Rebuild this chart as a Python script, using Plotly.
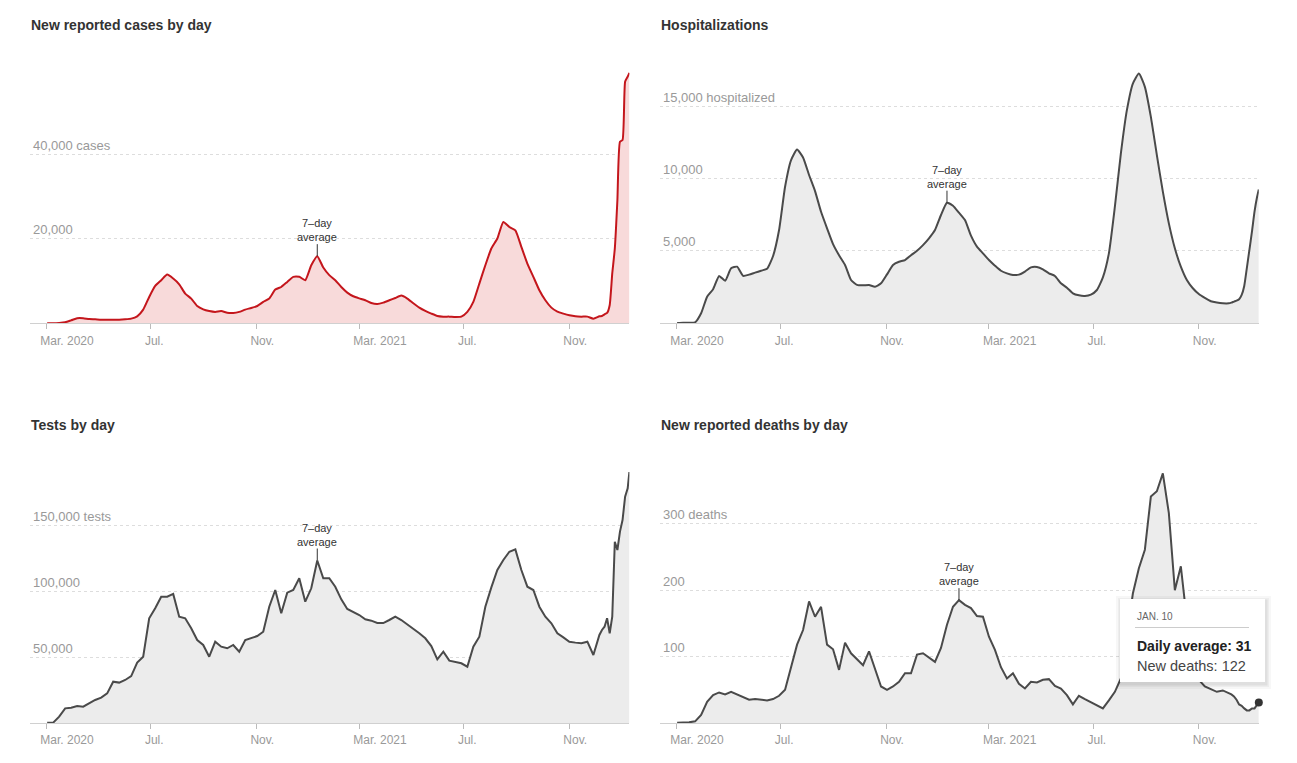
import plotly.graph_objects as go
import pandas as pd

# weekly readings, then a denser tail for the last five weeks
weekly = pd.date_range("2020-03-02", "2021-12-06", freq="7D")
tail_dates = ["2021-12-09", "2021-12-12", "2021-12-15", "2021-12-18", "2021-12-21", "2021-12-24",
              "2021-12-27", "2021-12-30", "2022-01-02", "2022-01-05", "2022-01-08", "2022-01-10"]
dates = list(weekly.strftime("%Y-%m-%d")) + tail_dates

cases = [0, 0, 80, 240, 700, 1200, 1200, 1000, 950, 870,
         870, 870, 870, 950, 1100, 1650, 3240, 6240, 8850, 10200,
         11530, 10600, 9240, 7030, 5850, 4100, 3300, 2900, 2700, 2900,
         2500, 2450, 2700, 3240, 3630, 4100, 5050, 5850, 7980, 8600,
         9800, 11000, 11000, 10200, 13750, 15900, 13200, 11400, 10200,
         8600, 7270, 6400, 5900, 5450, 4800, 4580, 4900, 5450, 6000,
         6560, 5850, 4740, 3710, 2920, 2290, 1740, 1580, 1580, 1500,
         1580, 2690, 5060, 9400, 13750, 17700, 20070, 24000, 22800, 22000,
         18100, 14140, 11000, 7820, 5450, 3710, 2770, 2290, 1900, 1660,
         1580, 1580, 1100, 1660,
         1740, 2130, 2450, 4270, 11800, 17700, 29150, 43000, 43400, 57200, 58400, 59300]

hospitalized = [20, 40, 40, 70, 690, 1840, 2350, 3270, 2940, 3800,
                3910, 3270, 3360, 3500, 3630, 3770, 4650, 6440, 9430, 11270,
                12000, 11450, 10240, 9130, 7700, 6560, 5470, 4700, 4030, 2990,
                2650, 2620, 2650, 2530, 2760, 3380, 4030, 4250, 4370, 4700,
                5010, 5400, 5870, 6440, 7480, 8330, 8120, 7640, 7130,
                6050, 5290, 4830, 4370, 3980, 3630, 3450, 3340, 3360, 3570,
                3860, 3890, 3730, 3450, 3270, 2760, 2460, 2070, 1930, 1890,
                1980, 2300, 3170, 4830, 8050, 11730, 14720, 16560, 17250, 16330,
                14260, 11620, 9090, 6900, 5180, 3910, 2990, 2420, 2020, 1750,
                1520, 1430, 1380, 1380,
                1430, 1500, 1560, 1660, 1960, 2580, 3800, 5060, 6330, 7710, 8740, 9250]

tests = [250, 250, 4800, 11150, 11650, 12900, 12400, 14950, 17500, 19250,
         22550, 31400, 30700, 32700, 35700, 45900, 50400, 79600, 87200, 96000,
         96000, 98100, 80800, 79600, 72000, 63100, 59300, 50400, 61800, 58000,
         56800, 59300, 54200, 63100, 64400, 66100, 69400, 88400, 101100, 83400,
         99100, 101100, 110000, 92200, 102400, 123500, 110000, 110000, 103600,
         94000, 86700, 84600, 82100, 78800, 77800, 76000, 76000, 78300, 80800,
         78300, 75000, 72000, 68200, 64400, 58500, 48400, 54200, 47400, 46100,
         45400, 42800, 58000, 65600, 88400, 103100, 116300, 123900, 130200, 132000,
         116300, 103600, 101100, 88400, 80800, 75800, 68200, 65100, 61800, 61100,
         60600, 61800, 51700, 66900,
         70700, 73200, 79600, 68200, 80800, 137800, 131500, 145500, 154300, 172000, 178400, 191000]

deaths = [0.5, 0.5, 1, 2.5, 12, 32, 42, 46, 43, 47,
          43, 39, 35, 36, 35, 34, 36, 41, 50, 82,
          118, 140, 183, 160, 175, 118, 111, 80, 121, 105,
          96, 87, 108, 82, 55, 50, 55, 62, 75, 75,
          103, 105, 99, 92, 113, 148, 175, 185, 178,
          173, 161, 160, 130, 110, 84, 67, 75, 59, 52,
          62, 61, 65, 66, 56, 52, 42, 28, 41, 36,
          31, 27, 22, 34, 47, 67, 135, 195, 233, 261,
          341, 349, 376, 316, 200, 236, 155, 95, 65, 55,
          51, 47, 49, 45,
          43, 40, 35, 28, 26, 22, 19, 19, 22, 22, 27, 31]

tick_dates = ["2020-03-01", "2020-07-01", "2020-11-01", "2021-03-01", "2021-07-01", "2021-11-01"]
tick_labels = ["Mar. 2020", "Jul.", "Nov.", "Mar. 2021", "Jul.", "Nov."]

titles = ["New reported cases by day", "Hospitalizations", "Tests by day", "New reported deaths by day"]
series = [cases, hospitalized, tests, deaths]
y_ticks = [[20000, 40000], [5000, 10000, 15000], [50000, 100000, 150000], [100, 200, 300]]
y_labels = [["20,000", "40,000 cases"], ["5,000", "10,000", "15,000 hospitalized"],
            ["50,000", "100,000", "150,000 tests"], ["100", "200", "300 deaths"]]
y_tops = [59500, 17355, 190800, 378]
peak_index = [45, 45, 45, 47]  # winter 2020-21 peak that carries the 7-day label
smooth = [True, True, False, False]

W, H = 1297, 763
FONT = "Liberation Sans, Arial, sans-serif"

x_dom = [[30 / W, 629.4 / W], [660 / W, 1258.8 / W]]
y_dom = [[1 - 323.3 / H, 1 - 72 / H], [1 - 723 / H, 1 - 472 / H]]
title_pos = [(29, 25), (659, 25), (29, 425), (659, 425)]

fig = go.Figure()
for i in range(4):
    col, row = i % 2, i // 2
    n = "" if i == 0 else str(i + 1)
    red = i == 0
    line = dict(color="#c4161c" if red else "#4a4a4a", width=2)
    if smooth[i]:
        line.update(shape="spline", smoothing=0.5)
    fig.add_scatter(x=dates, y=series[i], xaxis="x" + n, yaxis="y" + n, mode="lines",
                    line=line, fill="tozeroy", fillcolor="#f8dada" if red else "#ececec",
                    hoverinfo="skip", showlegend=False)
    fig.layout["xaxis" + n] = dict(
        domain=x_dom[col], anchor="y" + n, type="date",
        range=["2020-02-11", "2022-01-10"], showgrid=False, zeroline=False,
        showline=True, linecolor="#d0d0d0", linewidth=1,
        ticks="outside", ticklen=5, tickcolor="#bbbbbb",
        tickvals=tick_dates, ticktext=tick_labels,
        ticklabelposition="outside right", ticklabelshift=-7,
        ticklabelstandoff=6, ticklabeloverflow="allow",
        tickfont=dict(family=FONT, size=12, color="#999999"))
    fig.layout["yaxis" + n] = dict(
        domain=y_dom[row], anchor="x" + n, range=[0, y_tops[i]],
        showgrid=True, gridcolor="#dddddd", griddash="dot", gridwidth=1,
        zeroline=False, showline=False, ticks="",
        tickvals=y_ticks[i], ticktext=y_labels[i],
        ticklabelposition="inside top", ticklabeloverflow="allow",
        tickfont=dict(family=FONT, size=13, color="#999999"))
    tx, ty = title_pos[i]
    fig.add_annotation(x=tx / W, y=1 - ty / H, xref="paper", yref="paper",
                       xanchor="left", yanchor="middle", showarrow=False,
                       text="<b>" + titles[i] + "</b>",
                       font=dict(family=FONT, size=14, color="#333333"))
    k = peak_index[i]
    fig.add_annotation(x=dates[k], y=series[i][k], xref="x" + n, yref="y" + n,
                       text="7–day<br>average", showarrow=True, arrowhead=0,
                       arrowwidth=1, arrowcolor="#333333", ax=0, ay=-12,
                       yanchor="bottom", borderpad=0,
                       font=dict(family=FONT, size=11, color="#333333"))

# hovered point on the deaths chart
fig.add_scatter(x=[dates[-1]], y=[deaths[-1]], xaxis="x4", yaxis="y4", mode="markers",
                marker=dict(size=8, color="#333333"), cliponaxis=False,
                hoverinfo="skip", showlegend=False)


def px(x, y):
    return x / W, 1 - y / H


# tooltip box with soft shadow
bx0, by0, bx1, by1 = 1120, 599, 1265, 682
for s, a in [(5, 0.03), (3, 0.04), (1.5, 0.06)]:
    x0, y0 = px(bx0 - s + 1, by0 - s + 2)
    x1, y1 = px(bx1 + s + 1, by1 + s + 2)
    fig.add_shape(type="rect", xref="paper", yref="paper", x0=x0, y0=y0, x1=x1, y1=y1,
                  fillcolor="rgba(0,0,0,%s)" % a, line_width=0)
x0, y0 = px(bx0, by0)
x1, y1 = px(bx1, by1)
fig.add_shape(type="rect", xref="paper", yref="paper", x0=x0, y0=y0, x1=x1, y1=y1,
              fillcolor="white", line_width=0)
x0, y0 = px(1135, 627.5)
x1, _ = px(1249, 627.5)
fig.add_shape(type="line", xref="paper", yref="paper", x0=x0, y0=y0, x1=x1, y1=y0,
              line=dict(color="#cccccc", width=1))

tip_texts = [("JAN. 10", 616.5, 10, "#666666"),
             ("<b>Daily average: 31</b>", 646, 14, "#222222"),
             ("New deaths: 122", 666, 14.5, "#444444")]
for t, ty, size, color in tip_texts:
    x0, y0 = px(1135, ty)
    fig.add_annotation(x=x0, y=y0, xref="paper", yref="paper", xanchor="left",
                       yanchor="middle", showarrow=False, text=t,
                       font=dict(family=FONT, size=size, color=color))

fig.update_layout(width=W, height=H, margin=dict(l=0, r=0, t=0, b=0),
                  paper_bgcolor="white", plot_bgcolor="white", hovermode=False)

fig.write_html("out.html", config={"displayModeBar": False},
               post_script="document.body.style.margin='0';")
